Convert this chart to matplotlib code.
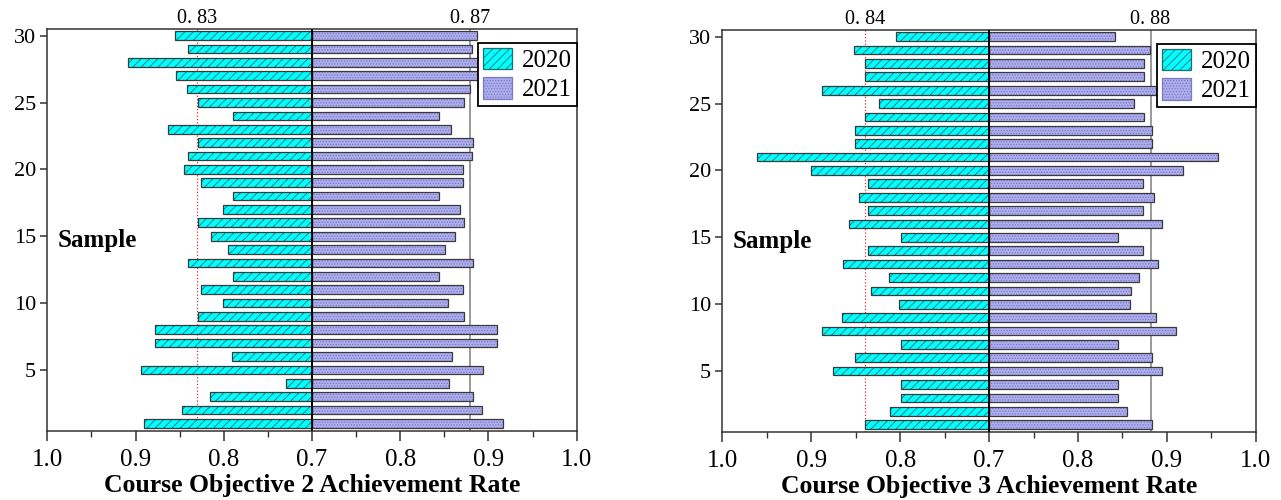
import matplotlib
matplotlib.use('Agg')
import matplotlib.pyplot as plt
from matplotlib.patches import Patch
from matplotlib.ticker import FixedLocator

plt.rcParams['font.family'] = ['Liberation Serif', 'DejaVu Serif']
plt.rcParams['hatch.linewidth'] = 0.6

samples = list(range(1, 31))

obj2_2020 = [0.890, 0.847, 0.816, 0.729, 0.894, 0.791, 0.878, 0.878, 0.829, 0.801,
             0.826, 0.789, 0.841, 0.795, 0.814, 0.829, 0.801, 0.789, 0.826, 0.845,
             0.841, 0.829, 0.863, 0.789, 0.829, 0.842, 0.854, 0.909, 0.841, 0.855]
obj2_2021 = [0.917, 0.893, 0.883, 0.855, 0.894, 0.859, 0.910, 0.910, 0.872, 0.854,
             0.871, 0.844, 0.882, 0.851, 0.862, 0.872, 0.868, 0.844, 0.871, 0.871,
             0.881, 0.882, 0.858, 0.844, 0.872, 0.879, 0.889, 0.897, 0.881, 0.887]
obj3_2020 = [0.839, 0.811, 0.799, 0.799, 0.875, 0.851, 0.799, 0.888, 0.865, 0.801,
             0.833, 0.812, 0.864, 0.836, 0.799, 0.858, 0.836, 0.846, 0.836, 0.900,
             0.961, 0.851, 0.851, 0.839, 0.824, 0.888, 0.839, 0.839, 0.852, 0.805]
obj3_2021 = [0.883, 0.855, 0.845, 0.845, 0.895, 0.883, 0.845, 0.910, 0.888, 0.859,
             0.860, 0.869, 0.890, 0.873, 0.845, 0.894, 0.873, 0.885, 0.873, 0.918,
             0.957, 0.883, 0.883, 0.874, 0.863, 0.900, 0.874, 0.874, 0.881, 0.842]

# reference lines (position, label) for each panel
ref2_2020 = (0.8305, '0. 83')
ref2_2021 = (0.879, '0. 87')
ref3_2020 = (0.839, '0. 84')
ref3_2021 = (0.8816, '0. 88')

xlabels = ['Course Objective 2 Achievement Rate', 'Course Objective 3 Achievement Rate']
tick_labels = ['1.0', '0.9', '0.8', '0.7', '0.8', '0.9', '1.0']
years = ['2020', '2021']

BASE = 0.7
C2020 = '#00FFFF'
C2021 = '#ADADF0'

fig = plt.figure(figsize=(12.81, 5.0), dpi=100)
ax1 = fig.add_axes([0.0369, 0.1386, 0.4133, 0.8034])
ax2 = fig.add_axes([0.5639, 0.1360, 0.4164, 0.8040])


def draw(ax, v20, v21, r20, r21, xlabel):
    h = 0.65
    w20 = [-(v - BASE) for v in v20]
    w21 = [(v - BASE) for v in v21]
    # fills with hatch
    ax.barh(samples, w20, height=h, left=0, color=C2020, edgecolor='#1f6f6f',
            hatch='////', linewidth=0, zorder=3)
    ax.barh(samples, w21, height=h, left=0, color=C2021, edgecolor='#7a7ac0',
            hatch='......', linewidth=0, zorder=3)
    # outlines
    ax.barh(samples, w20, height=h, left=0, fill=False, edgecolor='#3a3a3a',
            linewidth=0.9, zorder=4)
    ax.barh(samples, w21, height=h, left=0, fill=False, edgecolor='#3a3a3a',
            linewidth=0.9, zorder=4)
    # reference lines
    x20 = -(r20[0] - BASE)
    x21 = r21[0] - BASE
    ax.axvline(x20, color='#e03030', linestyle=':', linewidth=0.9, zorder=2)
    ax.axvline(x21, color='#888888', linestyle='-', linewidth=1.2, zorder=2)
    ax.axvline(0, color='black', linewidth=1.4, zorder=5)
    ax.text(x20, 1.003, r20[1], transform=ax.get_xaxis_transform(), ha='center',
            va='bottom', fontsize=14.5)
    ax.text(x21, 1.003, r21[1], transform=ax.get_xaxis_transform(), ha='center',
            va='bottom', fontsize=14.5)

    ax.set_xlim(-0.3, 0.3)
    ax.set_ylim(0.45, 30.5)
    ax.xaxis.set_major_locator(FixedLocator([-0.3, -0.2, -0.1, 0, 0.1, 0.2, 0.3]))
    ax.set_xticklabels(tick_labels)
    ax.xaxis.set_minor_locator(FixedLocator([-0.25, -0.15, -0.05, 0.05, 0.15, 0.25]))
    ax.set_yticks([5, 10, 15, 20, 25, 30])
    ax.tick_params(axis='x', which='major', direction='out', length=7, width=1.1,
                   labelsize=18, pad=6, color='#333333')
    ax.tick_params(axis='x', which='minor', direction='out', length=4, width=1.0,
                   color='#333333')
    ax.tick_params(axis='y', which='major', direction='out', length=5, width=1.1,
                   labelsize=16, pad=3, color='#333333')
    for s in ax.spines.values():
        s.set_linewidth(1.1)
        s.set_color('#333333')
    ax.set_xlabel(xlabel, fontsize=18.5, fontweight='bold', labelpad=2)
    ax.text(-0.288, 14.7, 'Sample', fontsize=18, fontweight='bold', va='center',
            ha='left')

    handles = [Patch(facecolor=C2020, edgecolor='#1f6f6f', hatch='////', linewidth=0.9),
               Patch(facecolor=C2021, edgecolor='#7a7ac0', hatch='......', linewidth=0.9)]
    leg = ax.legend(handles, years, loc='upper right', bbox_to_anchor=(1.0, 0.966),
                    borderaxespad=0, fontsize=18, fancybox=False, framealpha=1,
                    edgecolor='black', handlelength=1.15, handleheight=0.95,
                    handletextpad=0.4, borderpad=0.2, labelspacing=0.2)
    leg.get_frame().set_linewidth(1.3)
    leg.set_zorder(10)


draw(ax1, obj2_2020, obj2_2021, ref2_2020, ref2_2021, xlabels[0])
draw(ax2, obj3_2020, obj3_2021, ref3_2020, ref3_2021, xlabels[1])

fig.savefig('out.png', dpi=100)
